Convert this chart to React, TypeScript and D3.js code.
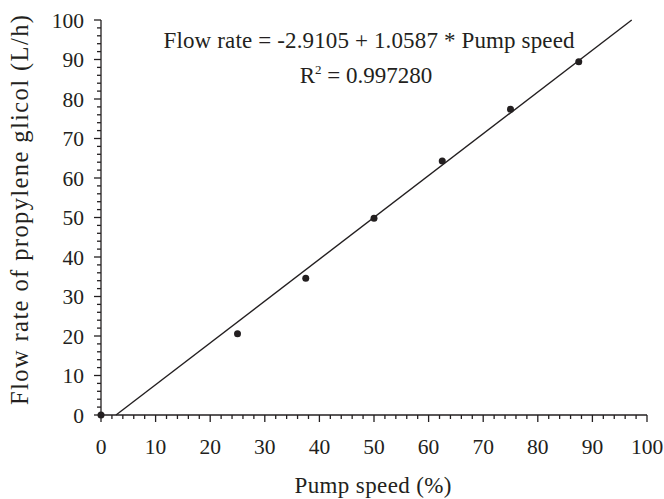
import React from "react";
import * as d3 from "d3";

const pumpSpeed = [0, 25, 37.5, 50, 62.5, 75, 87.5];
const flowRate = [0, 20.6, 34.6, 49.8, 64.3, 77.4, 89.4];
const intercept = -2.9105;
const slope = 1.0587;
const xTicks = [0, 10, 20, 30, 40, 50, 60, 70, 80, 90, 100];
const yTicks = [0, 10, 20, 30, 40, 50, 60, 70, 80, 90, 100];
const minorTicks = d3.range(0, 101, 2);
const equationText = "Flow rate = -2.9105 + 1.0587 * Pump speed";
const r2Value = "0.997280";
const xLabel = "Pump speed (%)";
const yLabel = "Flow rate of propylene glicol (L/h)";

const W = 664;
const H = 499;
const FONT = "'Liberation Serif', 'Times New Roman', serif";
const INK = "#231f20";

export default function App() {
  const x = d3.scaleLinear().domain([0, 100]).range([101, 647]);
  const y = d3.scaleLinear().domain([0, 100]).range([415, 20]);
  const x0 = (0 - intercept) / slope;
  const x1 = (100 - intercept) / slope;
  const fit = d3.line<number>().x((d) => x(d)).y((d) => y(intercept + slope * d));
  return (
    <svg width={W} height={H} style={{ position: "absolute", left: 0, top: 0, background: "#fff" }}>
      <rect width={W} height={H} fill="#fff" />
      <g stroke={INK} strokeWidth={1.3} fill="none">
        <line x1={x(0)} x2={x(100)} y1={y(0)} y2={y(0)} />
        <line x1={x(0)} x2={x(0)} y1={y(0)} y2={y(100)} />
        {minorTicks.map((t) => (
          <line key={"xm" + t} x1={x(t)} x2={x(t)} y1={y(0)} y2={y(0) + (t % 10 === 0 ? 7 : 4)} />
        ))}
        {minorTicks.map((t) => (
          <line key={"ym" + t} x1={x(0)} x2={x(0) - (t % 10 === 0 ? 7 : 4)} y1={y(t)} y2={y(t)} />
        ))}
        <path d={fit([x0, x1]) || ""} strokeWidth={1.4} />
      </g>
      {pumpSpeed.map((p, i) => (
        <circle key={i} cx={x(p)} cy={y(flowRate[i])} r={3.5} fill={INK} />
      ))}
      <g fontFamily={FONT} fill={INK}>
        <g fontSize={21.5}>
          {xTicks.map((t) => (
            <text key={"xt" + t} x={x(t)} y={454} textAnchor="middle">{t}</text>
          ))}
          {yTicks.map((t) => (
            <text key={"yt" + t} x={84} y={y(t)} dy="0.35em" textAnchor="end">{t}</text>
          ))}
        </g>
        <g fontSize={23}>
          <text x={373} y={493} textAnchor="middle" textLength={157} lengthAdjust="spacing">{xLabel}</text>
          <text transform={`translate(28,210) rotate(-90)`} textAnchor="middle" fontSize={24.5} textLength={390} lengthAdjust="spacing">{yLabel}</text>
          <text x={369} y={48} textAnchor="middle" textLength={411} lengthAdjust="spacing">{equationText}</text>
          <text x={366} y={83} textAnchor="middle">
            R<tspan dy={-9} fontSize={13}>2</tspan><tspan dy={9}> = {r2Value}</tspan>
          </text>
        </g>
      </g>
    </svg>
  );
}
